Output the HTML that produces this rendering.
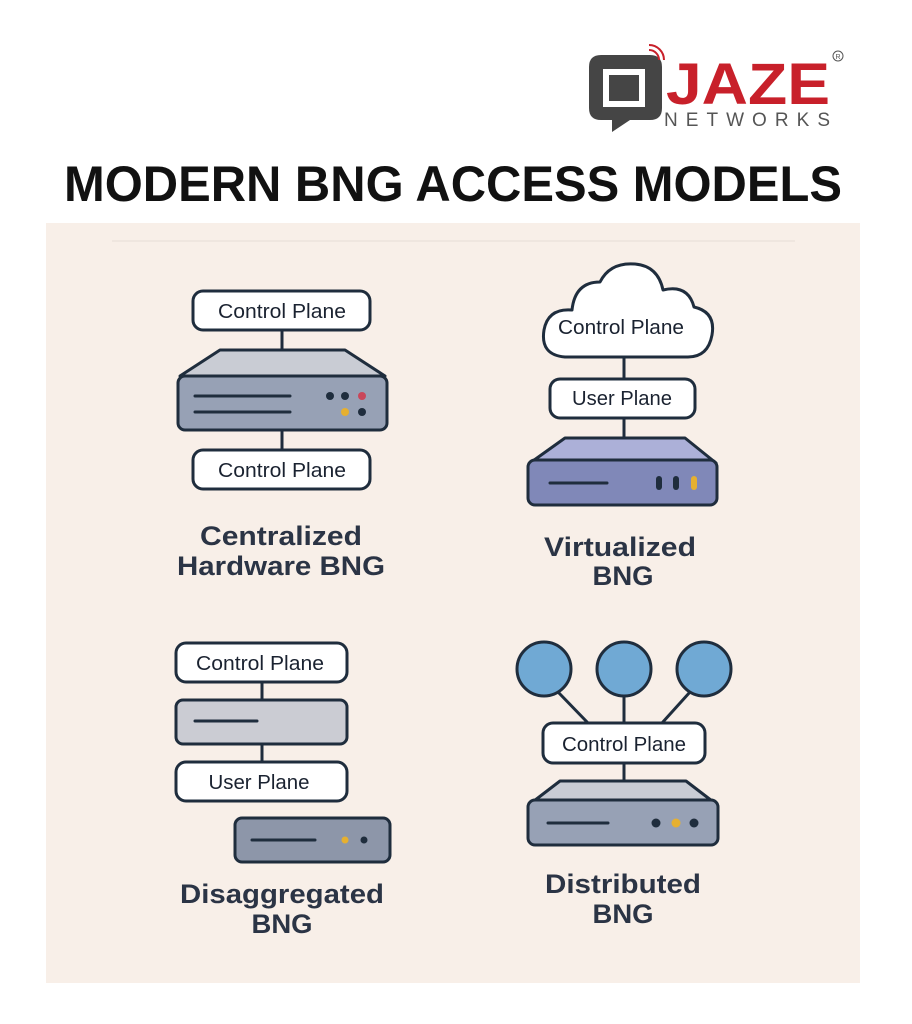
<!DOCTYPE html>
<html><head><meta charset="utf-8"><style>
html,body{margin:0;padding:0;background:#fff}
svg{display:block}
text{font-family:"Liberation Sans",sans-serif}
</style></head><body>
<svg width="912" height="1024" viewBox="0 0 912 1024" xmlns="http://www.w3.org/2000/svg">
<rect width="912" height="1024" fill="#fff"/>
<!-- logo -->
<path d="M601 55 H650 Q662 55 662 67 V108 Q662 120 650 120 H630 L612 132 L612 120 H601 Q589 120 589 108 V67 Q589 55 601 55 Z" fill="#454545"/>
<rect x="603" y="69" width="42" height="38" fill="#fff"/>
<rect x="609" y="75" width="30" height="26" fill="#454545"/>
<path d="M649 50 a10 10 0 0 1 10 10 M649 45 a15 15 0 0 1 15 15" stroke="#c8202a" stroke-width="2" fill="none"/>
<text x="666" y="104" font-size="58" font-weight="bold" fill="#c8202a" textLength="164" lengthAdjust="spacingAndGlyphs">JAZE</text>
<text x="664" y="126" font-size="19" fill="#555" textLength="166" lengthAdjust="spacing">NETWORKS</text>
<circle cx="838" cy="56" r="5" fill="none" stroke="#555" stroke-width="1"/>
<text x="838" y="59" font-size="7" fill="#555" text-anchor="middle">R</text>
<!-- title -->
<text x="453" y="201" font-size="50" font-weight="bold" fill="#111" text-anchor="middle" textLength="778" lengthAdjust="spacingAndGlyphs">MODERN BNG ACCESS MODELS</text>
<!-- panel -->
<rect x="46" y="223" width="814" height="760" fill="#f8efe8"/>
<line x1="112" y1="241" x2="795" y2="241" stroke="#e6ddd6" stroke-width="1"/>
<g stroke="#1f2d3d" stroke-width="3" stroke-linejoin="round">
<!-- Centralized -->
<line x1="282" y1="330" x2="282" y2="352"/>
<line x1="282" y1="430" x2="282" y2="450"/>
<rect x="193" y="291" width="177" height="39" rx="10" fill="#fff"/>
<path d="M180 376 L220 350 H345 L385 376 Z" fill="#c9ccd4"/>
<rect x="178" y="376" width="209" height="54" rx="7" fill="#97a1b5"/>
<line x1="195" y1="396" x2="290" y2="396" stroke-linecap="round"/>
<line x1="195" y1="412" x2="290" y2="412" stroke-linecap="round"/>
<rect x="193" y="450" width="177" height="39" rx="10" fill="#fff"/>
<!-- Virtualized -->
<line x1="624" y1="356" x2="624" y2="380"/>
<line x1="624" y1="418" x2="624" y2="438"/>
<path d="M565 357 Q540 355 544 330 Q548 308 572 310 Q575 282 600 282 Q610 262 635 264 Q658 266 663 290 Q688 284 694 307 Q716 312 712 335 Q708 357 688 357 Z" fill="#fff"/>
<rect x="550" y="379" width="145" height="39" rx="10" fill="#fff"/>
<path d="M530 463 L565 438 H685 L716 463 Z" fill="#acb0d8"/>
<rect x="528" y="460" width="189" height="45" rx="7" fill="#8088b8"/>
<line x1="550" y1="483" x2="607" y2="483" stroke-linecap="round"/>
<!-- Disaggregated -->
<line x1="262" y1="682" x2="262" y2="700"/>
<line x1="262" y1="744" x2="262" y2="762"/>
<rect x="176" y="643" width="171" height="39" rx="10" fill="#fff"/>
<rect x="176" y="700" width="171" height="44" rx="7" fill="#cbccd3"/>
<line x1="195" y1="721" x2="257" y2="721" stroke-linecap="round"/>
<rect x="176" y="762" width="171" height="39" rx="10" fill="#fff"/>
<rect x="235" y="818" width="155" height="44" rx="7" fill="#8d96a9"/>
<line x1="252" y1="840" x2="315" y2="840" stroke-linecap="round"/>
<!-- Distributed -->
<line x1="558" y1="692" x2="588" y2="723"/>
<line x1="624" y1="696" x2="624" y2="723"/>
<line x1="690" y1="692" x2="662" y2="723"/>
<line x1="624" y1="763" x2="624" y2="782"/>
<circle cx="544" cy="669" r="27" fill="#70a9d4"/>
<circle cx="624" cy="669" r="27" fill="#70a9d4"/>
<circle cx="704" cy="669" r="27" fill="#70a9d4"/>
<rect x="543" y="723" width="162" height="40" rx="10" fill="#fff"/>
<path d="M530 804 L560 781 H686 L716 804 Z" fill="#c9ccd4"/>
<rect x="528" y="800" width="190" height="45" rx="7" fill="#97a1b5"/>
<line x1="548" y1="823" x2="608" y2="823" stroke-linecap="round"/>
</g>
<!-- dots -->
<g stroke="none">
<circle cx="330" cy="396" r="4" fill="#1f2d3d"/><circle cx="345" cy="396" r="4" fill="#1f2d3d"/><circle cx="362" cy="396" r="4" fill="#c9475a"/>
<circle cx="345" cy="412" r="4" fill="#e6b030"/><circle cx="362" cy="412" r="4" fill="#1f2d3d"/>
<rect x="656" y="476" width="6" height="14" rx="3" fill="#1f2d3d"/><rect x="673" y="476" width="6" height="14" rx="3" fill="#1f2d3d"/><rect x="691" y="476" width="6" height="14" rx="3" fill="#e6b030"/>
<circle cx="345" cy="840" r="3.5" fill="#e6b030"/><circle cx="364" cy="840" r="3.5" fill="#1f2d3d"/>
<circle cx="656" cy="823" r="4.5" fill="#1f2d3d"/><circle cx="676" cy="823" r="4.5" fill="#e6b030"/><circle cx="694" cy="823" r="4.5" fill="#1f2d3d"/>
</g>
<!-- box labels -->
<g font-size="20" fill="#1a2230" text-anchor="middle">
<text x="282" y="318" textLength="128" lengthAdjust="spacingAndGlyphs">Control Plane</text>
<text x="282" y="477" textLength="128" lengthAdjust="spacingAndGlyphs">Control Plane</text>
<text x="621" y="334" textLength="126" lengthAdjust="spacingAndGlyphs">Control Plane</text>
<text x="622" y="405" textLength="100" lengthAdjust="spacingAndGlyphs">User Plane</text>
<text x="260" y="670" textLength="128" lengthAdjust="spacingAndGlyphs">Control Plane</text>
<text x="259" y="789" textLength="101" lengthAdjust="spacingAndGlyphs">User Plane</text>
<text x="624" y="751" textLength="124" lengthAdjust="spacingAndGlyphs">Control Plane</text>
</g>
<!-- section labels -->
<g font-size="27" font-weight="bold" fill="#2b3445" text-anchor="middle">
<text x="281" y="545" textLength="162" lengthAdjust="spacingAndGlyphs">Centralized</text>
<text x="281" y="575" textLength="208" lengthAdjust="spacingAndGlyphs">Hardware BNG</text>
<text x="620" y="556" textLength="152" lengthAdjust="spacingAndGlyphs">Virtualized</text>
<text x="623" y="585" textLength="61" lengthAdjust="spacingAndGlyphs">BNG</text>
<text x="282" y="903" textLength="204" lengthAdjust="spacingAndGlyphs">Disaggregated</text>
<text x="282" y="933" textLength="61" lengthAdjust="spacingAndGlyphs">BNG</text>
<text x="623" y="893" textLength="156" lengthAdjust="spacingAndGlyphs">Distributed</text>
<text x="623" y="923" textLength="61" lengthAdjust="spacingAndGlyphs">BNG</text>
</g>
</svg>
</body></html>
